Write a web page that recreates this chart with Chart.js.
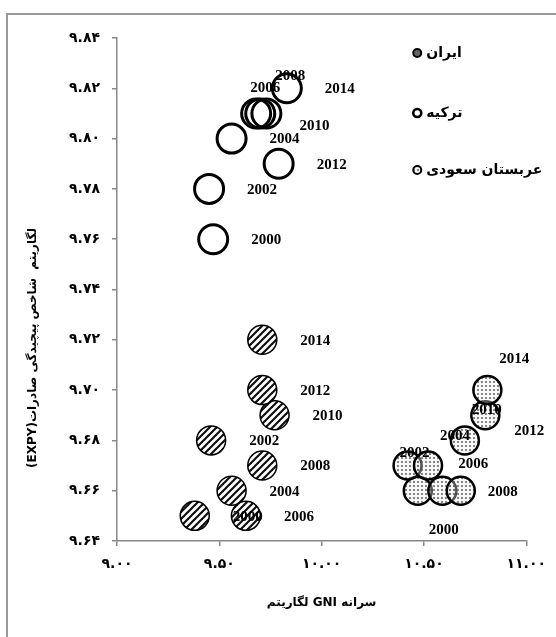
<!DOCTYPE html>
<html>
<head>
<meta charset="utf-8">
<script src="https://cdn.jsdelivr.net/npm/chart.js@4.4.1/dist/chart.umd.min.js"></script>
<style>
  body { margin: 0; background: #fff; }
  #wrap { width: 556px; height: 637px; }
</style>
</head>
<body>
<div id="wrap"><canvas id="chart" width="556" height="637"></canvas></div>
<script>
// data
const years = [2000, 2002, 2004, 2006, 2008, 2010, 2012, 2014];
const iranGni = [9.38, 9.46, 9.56, 9.63, 9.71, 9.77, 9.71, 9.71];
const iranExpy = [9.65, 9.68, 9.66, 9.65, 9.67, 9.69, 9.70, 9.72];
const turkeyGni = [9.47, 9.45, 9.56, 9.68, 9.70, 9.73, 9.79, 9.83];
const turkeyExpy = [9.76, 9.78, 9.80, 9.81, 9.81, 9.81, 9.79, 9.82];
const saudiGni = [10.47, 10.42, 10.52, 10.59, 10.68, 10.70, 10.80, 10.81];
const saudiExpy = [9.66, 9.67, 9.67, 9.66, 9.66, 9.68, 9.69, 9.70];
const seriesNames = ["ایران", "ترکیه", "عربستان سعودی"];
const xTitle = "لگاریتم GNI سرانه";
const yTitle = "لگاریتم  شاخص پیچیدگی صادرات(EXPY)";

// where each year label sits relative to its point (px)
const labelShift = {
  0: {},
  1: { 2006: [9, -25], 2008: [30, -37], 2010: [48, 13] },
  2: { 2000: [26, 39], 2002: [7, -12], 2004: [27, -29], 2006: [31, -27],
       2008: [42, 1], 2010: [22, -30], 2012: [44, 16], 2014: [27, -31] },
};

const fa = s => String(s).replace(/\d/g, d => "۰۱۲۳۴۵۶۷۸۹"[d]);
const toPoints = (xs, ys) => xs.map((x, i) => ({ x, y: ys[i], year: years[i] }));

// ---- fill patterns
const makeHatch = () => {
  const c = document.createElement("canvas");
  c.width = c.height = 7;
  const g = c.getContext("2d");
  g.fillStyle = "#fff";
  g.fillRect(0, 0, 7, 7);
  g.strokeStyle = "#111";
  g.lineWidth = 2.2;
  [[-7, 7, 7, -7], [0, 7, 7, 0], [0, 14, 14, 0]].forEach(([a, b, c2, d]) => {
    g.beginPath(); g.moveTo(a, b); g.lineTo(c2, d); g.stroke();
  });
  return g.createPattern(c, "repeat");
};
const makeDots = () => {
  const c = document.createElement("canvas");
  c.width = c.height = 4;
  const g = c.getContext("2d");
  g.fillStyle = "rgba(235,235,235,0.35)";
  g.fillRect(0, 0, 4, 4);
  g.fillStyle = "#555";
  g.beginPath(); g.arc(2, 2, 0.95, 0, Math.PI * 2); g.fill();
  return g.createPattern(c, "repeat");
};
const hatch = makeHatch();
const dots = makeDots();

// ---- year labels, legend, axis titles, frame
const extras = {
  id: "extras",
  beforeDraw(chart) {
    const ctx = chart.ctx;
    ctx.save();
    ctx.fillStyle = "#fff";
    ctx.fillRect(0, 0, chart.width, chart.height);
    ctx.strokeStyle = "#999";
    ctx.lineWidth = 2;
    ctx.strokeRect(7, 14, chart.width + 20, chart.height + 20);
    ctx.restore();
  },
  afterDatasetsDraw(chart) {
    const ctx = chart.ctx;
    const area = chart.chartArea;
    ctx.save();
    ctx.font = "bold 15px 'Liberation Serif'";
    ctx.fillStyle = "#000";
    ctx.textAlign = "center";
    ctx.textBaseline = "middle";
    chart.data.datasets.forEach((ds, di) => {
      chart.getDatasetMeta(di).data.forEach((el, i) => {
        const yr = ds.data[i].year;
        const [dx, dy] = labelShift[di][yr] || [53, 1];
        ctx.fillText(String(yr), el.x + dx, el.y + dy);
      });
    });

    // legend
    const lx = area.right - 109;
    const ly = [area.top + 15, area.top + 75, area.top + 132];
    chart.data.datasets.forEach((ds, di) => {
      ctx.beginPath();
      ctx.arc(lx, ly[di], 4, 0, Math.PI * 2);
      ctx.fillStyle = di === 0 ? "#666" : di === 1 ? "#fff" : dots;
      ctx.fill();
      ctx.lineWidth = di === 1 ? 2.6 : 2;
      ctx.strokeStyle = "#000";
      ctx.stroke();
      ctx.font = "bold 14px 'DejaVu Sans'";
      ctx.direction = "rtl";
      ctx.textAlign = "left";
      ctx.fillStyle = "#000";
      ctx.fillText(ds.label, lx + 9, ly[di]);
    });

    // x axis title (words laid out left to right as in the source)
    ctx.font = "bold 12px 'DejaVu Sans'";
    ctx.direction = "ltr";
    ctx.textAlign = "center";
    ctx.fillText(xTitle, (area.left + area.right) / 2, area.bottom + 62);

    // y axis title
    ctx.translate(33, 348);
    ctx.rotate(-Math.PI / 2);
    ctx.direction = "rtl";
    ctx.textAlign = "center";
    ctx.fillText(yTitle, 0, 0);
    ctx.restore();
  },
};

const tickFont = { family: "'DejaVu Sans'", size: 14, weight: "bold" };

new Chart(document.getElementById("chart"), {
  type: "scatter",
  plugins: [extras],
  data: {
    datasets: [
      {
        label: seriesNames[0],
        data: toPoints(iranGni, iranExpy),
        pointRadius: 14.5,
        borderWidth: 1.5,
        borderColor: "#000",
        backgroundColor: hatch,
      },
      {
        label: seriesNames[1],
        data: toPoints(turkeyGni, turkeyExpy),
        pointRadius: 14.5,
        borderWidth: 3,
        borderColor: "#000",
        backgroundColor: "rgba(0,0,0,0)",
      },
      {
        label: seriesNames[2],
        data: toPoints(saudiGni, saudiExpy),
        pointRadius: 14,
        borderWidth: 2.5,
        borderColor: "#000",
        backgroundColor: dots,
      },
    ],
  },
  options: {
    responsive: false,
    animation: false,
    events: [],
    layout: { padding: { left: 0, top: 38, right: 28, bottom: 0 } },
    plugins: { legend: { display: false }, tooltip: { enabled: false } },
    scales: {
      x: {
        type: "linear",
        min: 9,
        max: 11,
        afterFit: s => { s.height = 96; },
        ticks: {
          stepSize: 0.5,
          padding: 10,
          color: "#000",
          font: tickFont,
          callback: v => fa(v.toFixed(2)),
        },
        grid: { drawOnChartArea: false, tickLength: 5, color: "#888", lineWidth: 1.5 },
        border: { color: "#888", width: 1.5 },
      },
      y: {
        min: 9.64,
        max: 9.84,
        afterFit: s => { s.width = 117; },
        ticks: {
          stepSize: 0.02,
          padding: 12,
          color: "#000",
          font: tickFont,
          callback: v => fa(v.toFixed(2)),
        },
        grid: { drawOnChartArea: false, tickLength: 5, color: "#888", lineWidth: 1.5 },
        border: { color: "#888", width: 1.5 },
      },
    },
  },
});
</script>
</body>
</html>
